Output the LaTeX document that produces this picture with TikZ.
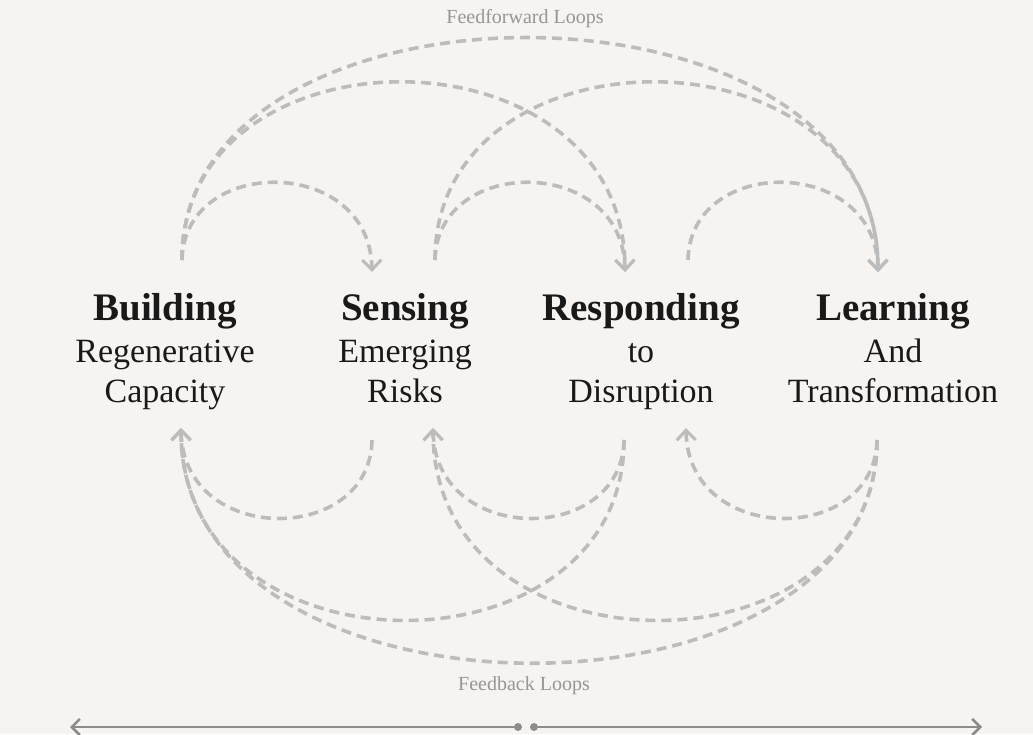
\documentclass[tikz,border=0pt]{standalone}
\usepackage{fontspec}
\setmainfont{Liberation Serif}
\usetikzlibrary{arrows.meta}
\definecolor{bgc}{RGB}{247,243,241}
\definecolor{loopc}{RGB}{188,188,188}
\definecolor{axisc}{RGB}{140,140,140}
\definecolor{capc}{RGB}{150,150,150}
\definecolor{txtc}{RGB}{25,25,25}
\tikzset{
  looparc/.style={draw=loopc, line width=3.6pt, dash pattern=on 10pt off 6pt,
    -{Straight Barb[length=10pt,width=19pt,line width=3pt]}},
  ttl/.style={font=\fontsize{39}{44}\selectfont\bfseries, text=txtc, anchor=base, inner sep=0pt},
  sublabel/.style={font=\fontsize{34}{40}\selectfont, text=txtc, anchor=base, inner sep=0pt},
  looplabel/.style={font=\fontsize{20}{22}\selectfont, text=capc, inner sep=0pt},
  axisline/.style={draw=axisc, line width=2.8pt},
  axisdot/.style={circle, fill=axisc, minimum size=8pt, inner sep=0pt},
}
\begin{document}
\begin{tikzpicture}[x=1pt,y=-1pt]
\fill[bgc] (0,0) rectangle (1033,734);
\useasboundingbox (0,0) rectangle (1033,734);

% phase labels
\node[ttl] (bT) at (165,320) {Building};
\node[sublabel] (b1) at (165,362) {Regenerative};
\node[sublabel] (b2) at (165,402) {Capacity};
\node[ttl] (sT) at (405,320) {Sensing};
\node[sublabel] (s1) at (405,362) {Emerging};
\node[sublabel] (s2) at (405,402) {Risks};
\node[ttl] (rT) at (641,320) {Responding};
\node[sublabel] (r1) at (641,362) {to};
\node[sublabel] (r2) at (641,402) {Disruption};
\node[ttl] (lT) at (893,320) {Learning};
\node[sublabel] (l1) at (893,362) {And};
\node[sublabel] (l2) at (893,402) {Transformation};

% captions
\node[looplabel] (ffcap) at (525,19) {Feedforward Loops};
\node[looplabel] (fbcap) at (524,686) {Feedback Loops};

% ports
\coordinate (ffB) at (182,260);
\coordinate (ffS) at (435,260);
\coordinate (ffR) at (688,260);
\coordinate (inS) at (372,272);
\coordinate (inR) at (625,272);
\coordinate (inL) at (878,272);
\coordinate (fbS) at (372,440);
\coordinate (fbR) at (624,440);
\coordinate (fbL) at (877,440);
\coordinate (outB) at (181,428);
\coordinate (outS) at (433,428);
\coordinate (outR) at (686,428);

% feedforward loops
\draw[looparc] (ffB) .. controls +(2,-105) and +(-2,-117) .. (inS);
\draw[looparc] (ffS) .. controls +(2,-105) and +(-2,-117) .. (inR);
\draw[looparc] (ffR) .. controls +(2,-105) and +(-2,-117) .. (inL);
\draw[looparc] (ffB) .. controls +(0,-239) and +(0,-251) .. (inR);
\draw[looparc] (ffS) .. controls +(0,-239) and +(0,-251) .. (inL);
\draw[looparc] (ffB) .. controls +(0,-298) and +(0,-310) .. (inL);

% feedback loops
\draw[looparc] (fbS) .. controls +(-2,106) and +(2,118) .. (outB);
\draw[looparc] (fbR) .. controls +(-2,106) and +(2,118) .. (outS);
\draw[looparc] (fbL) .. controls +(-2,106) and +(2,118) .. (outR);
\draw[looparc] (fbR) .. controls +(0,242) and +(0,254) .. (outB);
\draw[looparc] (fbL) .. controls +(0,242) and +(0,254) .. (outS);
\draw[looparc] (fbL) .. controls +(0,299) and +(0,311) .. (outB);

% bottom axis
\node[axisdot] (dL) at (518,727) {};
\node[axisdot] (dR) at (534,727) {};
\coordinate (axL) at (70,727);
\coordinate (axR) at (982,727);
\draw[axisline,-{Straight Barb[length=8pt,width=16pt,line width=2.6pt]}] (dL) -- (axL);
\draw[axisline,-{Straight Barb[length=8pt,width=16pt,line width=2.6pt]}] (dR) -- (axR);
\end{tikzpicture}
\end{document}
